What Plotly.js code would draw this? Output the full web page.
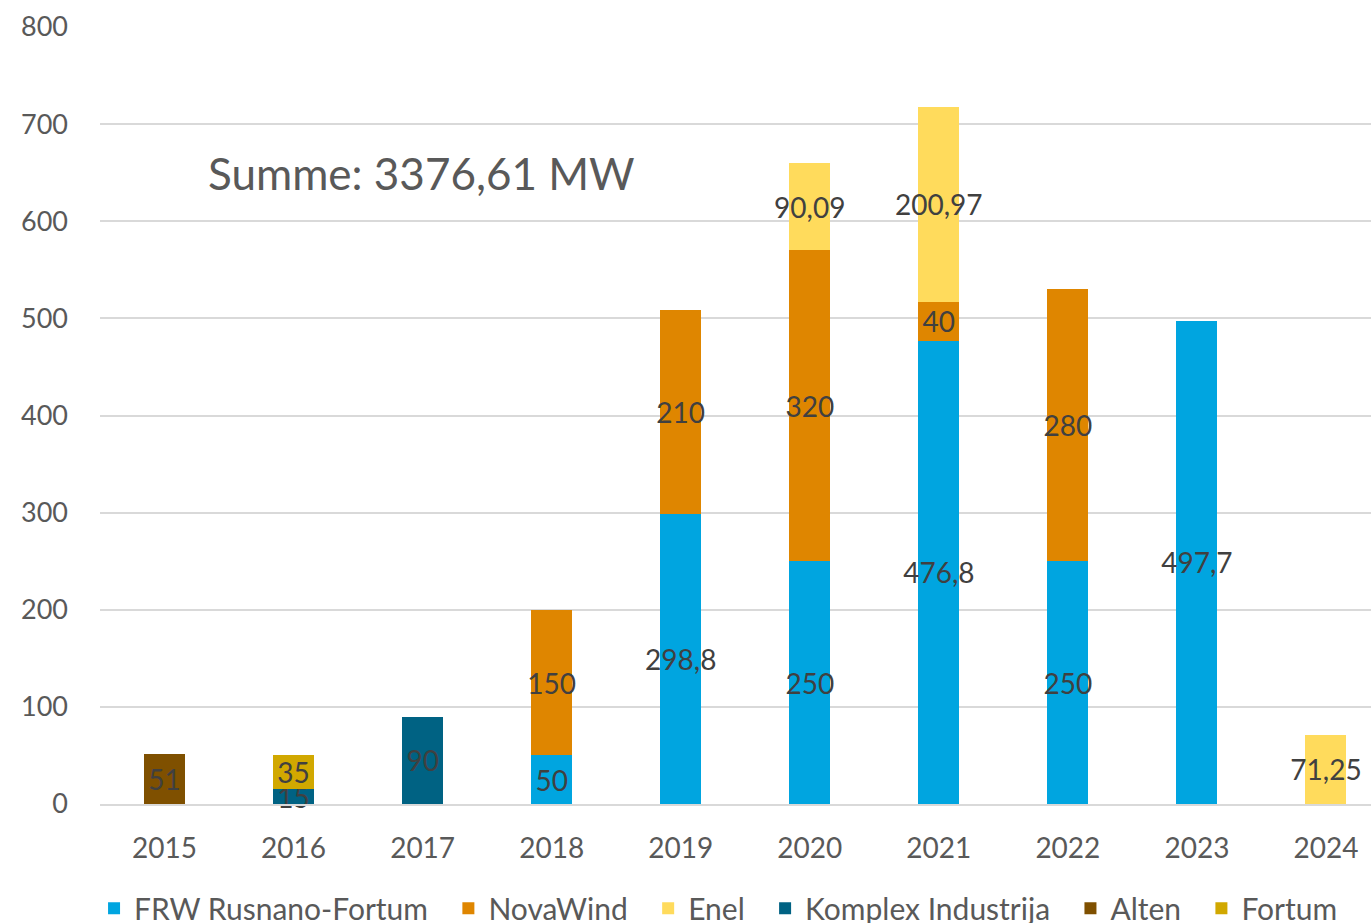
<!DOCTYPE html>
<html><head><meta charset="utf-8">
<script src="https://cdn.plot.ly/plotly-3.0.1.min.js"></script>
<style>html,body{margin:0;padding:0;background:#fff}#chart{width:1371px;height:923px}</style>
</head><body><div id="chart"></div>
<script>
var years = ['2015','2016','2017','2018','2019','2020','2021','2022','2023','2024'];
var frw      = [null, null, null, 50, 298.8, 250, 476.8, 250, 497.7, null];
var novaWind = [null, null, null, 150, 210, 320, 40, 280, null, null];
var enel     = [null, null, null, null, null, 90.09, 200.97, null, null, 71.25];
var komplex  = [null, 15, 90, null, null, null, null, null, null, null];
var alten    = [51, null, null, null, null, null, null, null, null, null];
var fortum   = [null, 35, null, null, null, null, null, null, null, null];
var seriesNames = ['FRW Rusnano-Fortum','NovaWind','Enel','Komplex Industrija','Alten','Fortum'];
var colors = ['#00A5E0','#DF8600','#FFDB5C','#006283','#7F5000','#D1A800'];
var totalLabel = 'Summe: 3376,61 MW';

var FONT = 'Lato, "Noto Sans", sans-serif';
function lbl(arr){ return arr.map(function(v){ return v==null ? '' : String(v).replace('.',','); }); }
var data = [frw, novaWind, enel, komplex, alten, fortum].map(function(vals, i){
  return {
    type:'bar', name: seriesNames[i] + (i < 5 ? '\u00A0\u00A0' : ''), x: years, y: vals,
    text: lbl(vals), textposition:'inside', insidetextanchor:'middle',
    constraintext:'none', textangle:0, cliponaxis:false,
    textfont:{family:FONT, size:28, color:'#404040'},
    marker:{color: colors[i]}, hoverinfo:'x+y+name'
  };
});
var layout = {
  width:1371, height:923, barmode:'stack', bargap:0.682,
  paper_bgcolor:'#fff', plot_bgcolor:'#fff',
  margin:{l:100, r:0, t:27, b:119, autoexpand:false},
  font:{family:FONT, color:'#595959', size:27},
  xaxis:{type:'category', range:[-0.5, 9.349], showline:true, linecolor:'#d9d9d9', linewidth:2, ticks:'',
         tickfont:{size:28, color:'#595959'}, ticklabelstandoff:18, automargin:false},
  yaxis:{range:[0,800], dtick:100, gridcolor:'#d9d9d9', gridwidth:2, zeroline:false,
         tickfont:{size:27, color:'#595959'}, ticklabelstandoff:31, automargin:false},
  showlegend:true,
  legend:{orientation:'h', xref:'container', x:0.0686, xanchor:'left', yref:'container', y:0.016, yanchor:'middle',
          font:{size:30, color:'#595959'}, traceorder:'normal'},
  annotations:[{text: totalLabel, xref:'paper', yref:'y', x:0.253, y:650, xanchor:'center', yanchor:'middle', showarrow:false,
                font:{family:FONT, size:44, color:'#595959'}}]
};
Plotly.newPlot('chart', data, layout, {displayModeBar:false, staticPlot:true});
</script></body></html>
